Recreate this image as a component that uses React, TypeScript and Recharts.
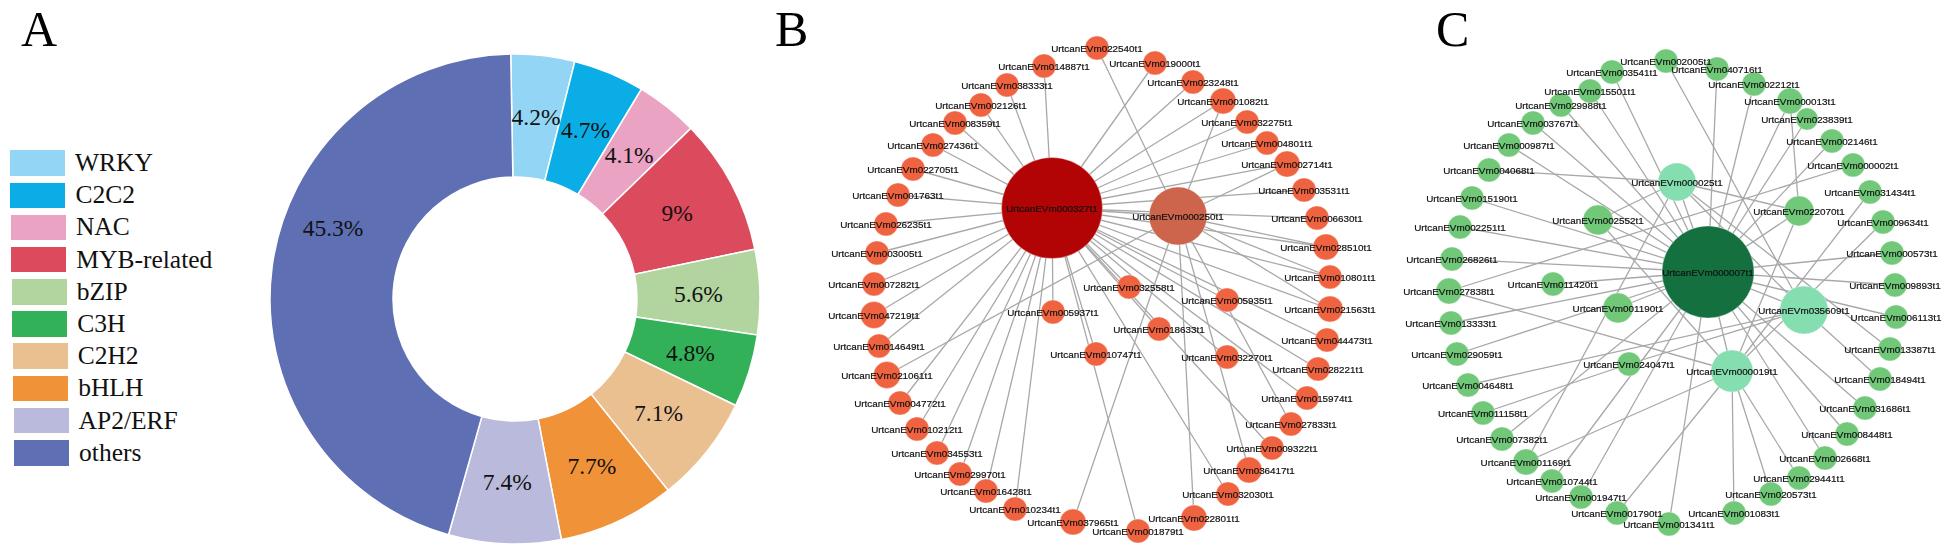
import { PieChart, Pie, Cell, Legend, ScatterChart, Scatter, XAxis, YAxis, ReferenceLine } from "recharts";

const families = ["WRKY", "C2C2", "NAC", "MYB-related", "bZIP", "C3H", "C2H2", "bHLH", "AP2/ERF", "others"];
const shares = [4.2, 4.7, 4.1, 9, 5.6, 4.8, 7.1, 7.7, 7.4, 45.3];
const familyColors = ["#93d5f4", "#0badE6", "#eba3c3", "#dc4a5d", "#b2d49e", "#32b158", "#ebc091", "#f09338", "#babbdc", "#5f6fb3"];

// network nodes: gene id, x, y, node size
type NodeRow = [string, number, number, number];

const bNodes: NodeRow[] = [
  ["000327", 1052, 208, 50.5], ["000250", 1178, 216, 29],
  ["022540", 1097, 48, 12], ["014887", 1044, 66, 12], ["019000", 1155, 63, 12], ["038333", 1007, 85, 12],
  ["023248", 1193, 82, 12], ["002126", 981, 105, 12], ["001082", 1223, 101, 13], ["008359", 955, 123, 12],
  ["032275", 1247, 122, 12], ["027436", 933, 145, 12], ["004801", 1267, 143, 12], ["022705", 913, 169, 12],
  ["002714", 1287, 164, 13], ["001763", 898, 195, 12], ["003531", 1304, 190, 12], ["026235", 886, 224, 12],
  ["006630", 1317, 218, 12], ["003005", 877, 253, 12], ["028510", 1326, 247, 13], ["007282", 874, 284, 12],
  ["010801", 1330, 277, 12], ["047219", 874, 315, 13.5], ["021563", 1330, 309, 13], ["014649", 879, 346, 12],
  ["044473", 1327, 340, 12], ["021061", 887, 375, 13.5], ["028221", 1318, 369, 12], ["004772", 900, 403, 12],
  ["015974", 1307, 398, 12], ["010212", 917, 429, 12], ["027833", 1291, 424, 12], ["034553", 937, 453, 12],
  ["009322", 1272, 448, 12], ["029970", 960, 474, 12], ["036417", 1249, 470, 13], ["016428", 986, 491, 12],
  ["032030", 1228, 494, 12], ["010234", 1015, 509, 12], ["022801", 1194, 518, 13], ["037965", 1073, 522, 13],
  ["001879", 1138, 531, 12], ["005937", 1053, 312, 12], ["032558", 1129, 287, 12], ["005935", 1227, 300, 12],
  ["018633", 1159, 329, 12], ["032270", 1227, 357, 12], ["010747", 1096, 354, 12],
];
const bLinksToHub = [
  "000250", "014887", "019000", "038333", "023248", "002126", "001082", "008359", "032275", "027436", "004801", "022705",
  "002714", "001763", "003531", "026235", "006630", "003005", "028510", "007282", "010801", "047219", "021563", "014649",
  "044473", "028221", "004772", "015974", "010212", "009322", "034553", "029970", "016428", "032030", "010234", "001879",
  "005937", "032558", "018633", "032270", "010747", "005935",
];
const bLinksToSecond = ["022540", "001082", "002714", "028510", "021563", "010801", "037965", "022801", "036417", "027833", "021061"];

const cNodes: NodeRow[] = [
  ["000007", 1708, 272, 46], ["000025", 1677, 182, 19], ["035609", 1804, 310, 24], ["000019", 1732, 371, 21],
  ["022070", 1799, 211, 15], ["002552", 1598, 220, 15], ["001190", 1618, 308, 15], ["024047", 1629, 364, 12],
  ["011420", 1553, 284, 12], ["002005", 1666, 61, 12], ["003541", 1612, 72, 12], ["040716", 1717, 69, 12],
  ["002212", 1754, 84, 12], ["015501", 1590, 91, 12], ["000013", 1790, 101, 13], ["029988", 1561, 105, 12],
  ["023839", 1807, 119, 11], ["003767", 1533, 123, 12], ["002146", 1832, 141, 12], ["000987", 1509, 145, 12],
  ["000002", 1853, 165, 12], ["004068", 1489, 170, 12], ["031434", 1870, 192, 12], ["015190", 1472, 198, 12],
  ["009634", 1883, 222, 12], ["002251", 1460, 227, 12], ["000573", 1892, 253, 12], ["026826", 1452, 259, 12],
  ["009893", 1895, 285, 12], ["027838", 1449, 291, 13], ["006113", 1896, 317, 12], ["013333", 1451, 323, 12],
  ["013387", 1890, 349, 12], ["029059", 1457, 354, 12], ["018494", 1880, 379, 12], ["004648", 1468, 385, 12],
  ["031686", 1865, 408, 12], ["011158", 1483, 413, 12], ["008448", 1847, 434, 12], ["007382", 1502, 439, 12],
  ["002668", 1825, 458, 12], ["001169", 1526, 462, 13], ["029441", 1799, 478, 12], ["010744", 1552, 481, 12],
  ["020573", 1771, 494, 12], ["001947", 1581, 497, 12], ["001083", 1734, 513, 12], ["001790", 1617, 513, 12],
  ["001341", 1669, 524, 12],
];
const cLinks: [string, string][] = [
  ["000007", "000025"], ["000007", "035609"], ["000007", "000019"], ["000007", "022070"], ["000007", "002552"],
  ["000007", "001190"], ["000007", "000987"], ["000007", "003767"], ["000007", "029988"], ["000007", "015501"],
  ["000007", "003541"], ["000007", "040716"], ["000007", "002212"], ["000007", "000013"], ["000007", "023839"],
  ["000007", "002146"], ["000007", "000573"], ["000007", "009893"], ["000007", "006113"], ["000007", "031686"],
  ["000007", "008448"], ["000007", "002668"], ["000007", "001341"], ["000007", "001947"], ["000007", "010744"],
  ["000007", "007382"], ["000007", "029059"], ["000007", "013333"], ["000007", "011420"], ["000007", "026826"],
  ["000007", "002251"], ["000007", "015190"], ["000025", "004068"], ["000025", "002552"], ["000025", "022070"],
  ["000025", "001169"], ["000025", "013387"], ["000025", "035609"], ["022070", "000013"], ["022070", "000019"],
  ["035609", "002005"], ["035609", "018494"], ["035609", "004648"], ["035609", "024047"], ["000019", "031434"],
  ["000019", "009634"], ["000019", "029441"], ["000019", "020573"], ["000019", "001083"], ["000019", "001790"],
  ["000019", "001169"], ["000019", "027838"], ["000019", "002552"], ["000002", "027838"], ["024047", "011158"],
];

const toPoints = (rows: NodeRow[]) => rows.map(([id, x, y, size]) => ({ id, x, y, size, label: `UrtcanEVm${id}t1` }));

const bPoints = toPoints(bNodes);
const cPoints = toPoints(cNodes);

const bLinks: [string, string][] = [
  ...bLinksToHub.map((id): [string, string] => ["000327", id]),
  ...bLinksToSecond.map((id): [string, string] => ["000250", id]),
];

const SERIF = "'Liberation Serif', serif";
const SANS = "'Liberation Sans', sans-serif";
const RAD = Math.PI / 180;

const bColor = (id: string) => (id === "000327" ? "#b20404" : id === "000250" ? "#cc654b" : "#ef6340");
const cColor = (id: string) => {
  if (id === "000007") return "#14703e";
  if (id === "000025" || id === "000019" || id === "035609") return "#84deb0";
  return "#70c878";
};

function Links({ links, points }: { links: [string, string][]; points: ReturnType<typeof toPoints> }) {
  const at = (id: string) => points.find((p) => p.id === id)!;
  return (
    <>
      {links.map(([a, b]) => (
        <ReferenceLine
          key={a + b}
          segment={[
            { x: at(a).x, y: at(a).y },
            { x: at(b).x, y: at(b).y },
          ]}
          stroke="#a8a8a8"
          strokeWidth={1.3}
        />
      ))}
    </>
  );
}

const nodeShape = (color: (id: string) => string) => (props: any) =>
  <circle cx={props.cx} cy={props.cy} r={props.payload.size} fill={color(props.payload.id)} stroke="#ffffff" strokeOpacity={0.35} />;

const labelShape = (props: any) => (
  <text
    x={props.cx}
    y={props.cy}
    textAnchor="middle"
    dominantBaseline="central"
    fontFamily={SANS}
    fontSize={9.9}
    fill="#111"
    stroke="#111"
    strokeWidth={0.2}
  >
    {props.payload.label}
  </text>
);

const shareLabel = (props: any) => {
  const r = (props.innerRadius + props.outerRadius) / 2;
  const x = props.cx + r * Math.cos(-props.midAngle * RAD);
  let y = props.cy + r * Math.sin(-props.midAngle * RAD);
  // the big slice carries its label higher than its middle
  if (props.index === shares.length - 1) y -= 47;
  return (
    <text x={x} y={y} textAnchor="middle" dominantBaseline="central" fontFamily={SERIF} fontSize={23.5} fill="#111">
      {shares[props.index]}%
    </text>
  );
};

const legendContent = () => (
  <div style={{ fontFamily: SERIF, fontSize: 25.5, color: "#111" }}>
    {families.map((name, i) => (
      <div key={name} style={{ display: "flex", alignItems: "center", height: 32.2, marginLeft: i * 0.45 }}>
        <div style={{ width: 55, height: 25.5, background: familyColors[i], marginRight: 10 }} />
        {name}
      </div>
    ))}
  </div>
);

const letterStyle = (left: number) =>
  ({ position: "absolute", left, top: 0, fontFamily: SERIF, fontSize: 50, lineHeight: "normal", color: "#000" } as const);

const layer = { position: "absolute", left: 0, top: 0 } as const;

export default function App() {
  const pieData = families.map((name, i) => ({ name, value: shares[i] }));
  return (
    <div style={{ position: "absolute", left: 0, top: 0, width: 1949, height: 554, background: "#fff", overflow: "hidden" }}>
      <div style={{ ...layer, filter: "blur(0.35px)" }}>
        <ScatterChart width={1949} height={554} margin={{ top: 0, right: 0, bottom: 0, left: 0 }}>
          <XAxis type="number" dataKey="x" domain={[0, 1949]} hide />
          <YAxis type="number" dataKey="y" domain={[0, 554]} reversed hide />
          {Links({ links: bLinks, points: bPoints })}
          {Links({ links: cLinks, points: cPoints })}
          <Scatter data={bPoints} shape={nodeShape(bColor)} isAnimationActive={false} />
          <Scatter data={cPoints} shape={nodeShape(cColor)} isAnimationActive={false} />
          <Scatter data={bPoints} shape={labelShape} isAnimationActive={false} />
          <Scatter data={cPoints} shape={labelShape} isAnimationActive={false} />
        </ScatterChart>
      </div>
      <div style={layer}>
        <PieChart width={780} height={554} margin={{ top: 0, right: 0, bottom: 0, left: 0 }}>
          <Pie
            data={pieData}
            dataKey="value"
            cx={515}
            cy={299}
            innerRadius={122}
            outerRadius={245}
            startAngle={91}
            endAngle={-269}
            stroke="#ffffff"
            strokeWidth={1.5}
            label={shareLabel}
            labelLine={false}
            isAnimationActive={false}
          >
            {pieData.map((d, i) => (
              <Cell key={d.name} fill={familyColors[i]} />
            ))}
          </Pie>
          <Legend content={legendContent} wrapperStyle={{ left: 10, top: 147, width: 240, bottom: "auto" }} />
        </PieChart>
      </div>
      <div style={letterStyle(21)}>A</div>
      <div style={letterStyle(775)}>B</div>
      <div style={letterStyle(1436)}>C</div>
    </div>
  );
}
